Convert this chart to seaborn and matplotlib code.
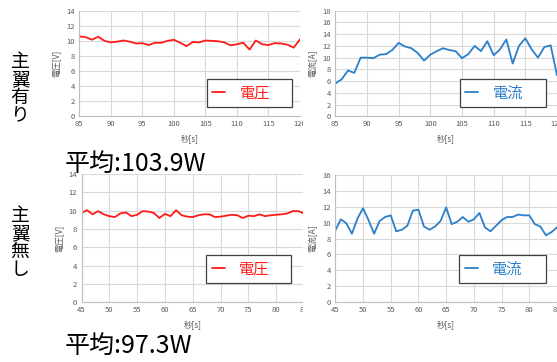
import numpy as np
import pandas as pd
import matplotlib
matplotlib.use("Agg")
import matplotlib.pyplot as plt
import seaborn as sns

# --- data -----------------------------------------------------------------
t_with = list(range(85, 121))
v_with = [10.6, 10.5, 10.15, 10.55, 10.0, 9.8, 9.9, 10.05, 9.9, 9.65, 9.7, 9.45,
          9.75, 9.75, 10.0, 10.15, 9.75, 9.3, 9.85, 9.8, 10.05, 10.0, 9.95, 9.8,
          9.4, 9.55, 9.75, 8.85, 10.05, 9.55, 9.45, 9.7, 9.65, 9.5, 9.1, 10.2]
i_with = [5.6, 6.3, 7.8, 7.4, 10.0, 10.0, 9.9, 10.5, 10.6, 11.3, 12.5, 11.9,
          11.6, 10.8, 9.5, 10.5, 11.1, 11.6, 11.3, 11.1, 9.9, 10.6, 12.0, 11.1,
          12.8, 10.4, 11.4, 13.1, 9.0, 12.0, 13.3, 11.4, 10.0, 11.8, 12.1, 7.0]

t_without = list(range(45, 86))
v_without = [9.75, 10.05, 9.6, 9.95, 9.6, 9.4, 9.3, 9.7, 9.8, 9.4, 9.55, 9.95,
             9.9, 9.75, 9.2, 9.65, 9.4, 10.05, 9.5, 9.35, 9.3, 9.5, 9.6, 9.6,
             9.3, 9.35, 9.45, 9.55, 9.5, 9.2, 9.45, 9.4, 9.6, 9.4, 9.5, 9.55,
             9.6, 9.7, 9.95, 9.95, 9.7]
i_without = [9.0, 10.4, 9.9, 8.6, 10.5, 11.8, 10.3, 8.6, 10.2, 10.7, 10.9, 8.9,
             9.1, 9.6, 11.5, 11.6, 9.5, 9.1, 9.5, 10.2, 11.9, 9.8, 10.1, 10.7,
             10.1, 10.4, 11.2, 9.4, 8.9, 9.6, 10.3, 10.7, 10.7, 11.0, 10.9, 10.9,
             9.8, 9.5, 8.4, 8.8, 9.4]

row_titles = ["主翼有り", "主翼無し"]
avg_labels = ["平均:103.9W", "平均:97.3W"]
volt_label = "電圧"
curr_label = "電流"
volt_ylabel = "電圧[V]"
curr_ylabel = "電流[A]"
xlabel = "秒[s]"

# --- style ----------------------------------------------------------------
sns.set_style("white")
plt.rcParams["font.family"] = ["Noto Sans CJK JP", "DejaVu Sans"]

RED = "#ff1a1a"
BLUE = "#2a7fc9"
GRID = "#d9d9d9"
TICK = "#595959"

W, H = 557, 362
fig = plt.figure(figsize=(W / 100, H / 100), dpi=100)
fig.patch.set_facecolor("white")


def px_axes(l, t, r, b, z=0):
    ax = fig.add_axes([l / W, 1 - b / H, (r - l) / W, (b - t) / H])
    ax.set_zorder(z)
    return ax


def style(ax, x0, x1, ymax, ylabel):
    ax.set_xlim(x0, x1)
    ax.set_ylim(0, ymax)
    ax.set_xticks(np.arange(x0, x1 + 1, 5))
    ax.set_yticks(np.arange(0, ymax + 1, 2))
    ax.grid(True, color=GRID, linewidth=0.8)
    ax.set_axisbelow(True)
    for s in ["top", "right"]:
        ax.spines[s].set_visible(False)
    for s in ["left", "bottom"]:
        ax.spines[s].set_color("#bfbfbf")
        ax.spines[s].set_linewidth(0.8)
    ax.tick_params(axis="both", labelsize=5.5, colors=TICK, length=0, pad=3)
    ax.set_xlabel(xlabel, fontsize=6, color=TICK, labelpad=4)
    ax.set_ylabel(ylabel, fontsize=6, color=TICK, labelpad=4)


def legend(ax, color, box):
    l, t, r, b = box
    leg = ax.legend(loc="center left",
                    bbox_to_anchor=(l / W, 1 - b / H, (r - l) / W, (b - t) / H),
                    bbox_transform=fig.transFigure, mode="expand",
                    fontsize=11, handlelength=0.85, handletextpad=0.95,
                    borderpad=0.35, borderaxespad=0, fancybox=False,
                    frameon=True, labelcolor=color)
    fr = leg.get_frame()
    fr.set_edgecolor("#404040")
    fr.set_linewidth(0.9)
    fr.set_alpha(1)


def line(ax, t, y, color, label):
    df = pd.DataFrame({"t": t, "y": y})
    sns.lineplot(data=df, x="t", y="y", ax=ax, color=color, linewidth=1.3,
                 label=label)


# left column panels
ax1 = px_axes(79.3, 10.7, 300, 116.3)
line(ax1, t_with, v_with, RED, volt_label)
style(ax1, 85, 120, 14, volt_ylabel)
legend(ax1, RED, (206.7, 79.3, 291.7, 106.7))

ax3 = px_axes(81.5, 174, 304, 302.3)
line(ax3, t_without, v_without, RED, volt_label)
style(ax3, 45, 85, 14, volt_ylabel)
legend(ax3, RED, (206.3, 255.7, 291, 282.3))

# right column sits on a white panel over the left charts' edges
bg = px_axes(303, 0, 557, 362, z=1)
bg.set_facecolor("white")
bg.set_xticks([])
bg.set_yticks([])
for s in bg.spines.values():
    s.set_visible(False)

ax2 = px_axes(335.3, 10.7, 557, 116.3, z=2)
line(ax2, t_with, i_with, BLUE, curr_label)
style(ax2, 85, 120, 18, curr_ylabel)
legend(ax2, BLUE, (460, 79.3, 545.7, 106.7))

ax4 = px_axes(335.3, 174.7, 557, 302.3, z=2)
line(ax4, t_without, i_without, BLUE, curr_label)
style(ax4, 45, 85, 16, curr_ylabel)
legend(ax4, BLUE, (459.3, 255.5, 545.7, 282.3))

# row titles, one character per line, and averages
for title, y0 in zip(row_titles, [62, 216]):
    for k, ch in enumerate(title):
        fig.text(20 / W, 1 - (y0 + 17.7 * k) / H, ch, fontsize=13.5,
                 ha="center", va="center", color="black", zorder=5)
for txt, yc in zip(avg_labels, [164, 346]):
    fig.text(65 / W, 1 - yc / H, txt, fontsize=18, ha="left", va="center",
             color="black", zorder=5)

fig.savefig("out.png", dpi=100, facecolor="white")
